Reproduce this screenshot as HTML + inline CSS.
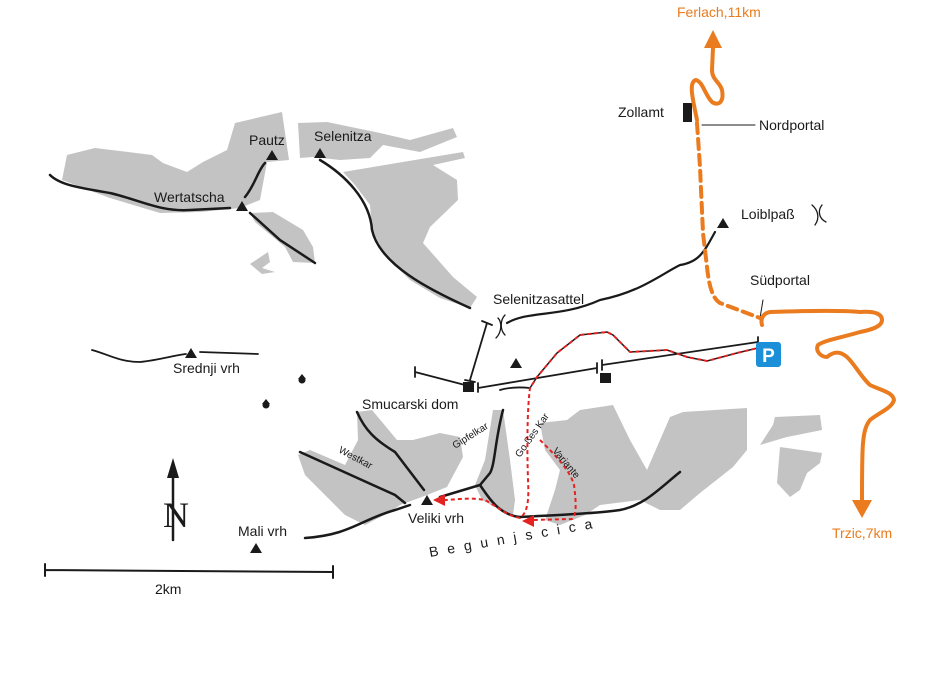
<!DOCTYPE html>
<html><head><meta charset="utf-8"><style>
html,body{margin:0;padding:0;background:#fff;}
svg{display:block;font-family:"Liberation Sans",sans-serif;}
</style></head><body>
<svg width="933" height="674" viewBox="0 0 933 674" xmlns="http://www.w3.org/2000/svg">
<g fill="#c3c3c3">
<polygon points="62,180 67,155 95,148 152,155 163,163 187,172 203,162 227,150 235,123 282,112 289,160 267,162 260,200 240,208 200,212 160,213 110,198"/>
<polygon points="250,213 273,212 303,230 313,247 315,263 293,262 285,247 255,222"/>
<polygon points="250,264 268,252 270,262 262,268 275,272 262,274"/>
<polygon points="298,123 327,122 380,133 410,140 453,128 457,137 420,152 383,145 370,158 340,160 313,157 300,158"/>
<polygon points="343,172 463,152 465,158 433,165 457,180 458,200 430,227 423,243 453,277 477,297 470,308 440,298 410,280 385,255 372,230 370,205 355,185"/>
<polygon points="298,455 310,450 345,465 358,440 357,412 372,410 397,440 413,440 440,433 460,437 463,457 447,487 427,495 400,505 390,512 365,525 345,515 325,495 305,475"/>
<polygon points="493,410 503,410 510,460 515,500 513,515 500,510 482,500 475,485 485,460"/>
<polygon points="540,423 567,420 580,410 613,405 630,440 647,470 670,417 683,412 747,408 747,450 733,467 700,493 680,510 660,510 640,500 600,505 585,515 560,525 545,520 555,490 560,470 545,450"/>
<polygon points="773,425 775,417 820,415 822,430 787,437 760,445"/>
<polygon points="780,447 822,453 820,463 807,473 800,490 790,497 777,483"/>
</g>
<g fill="none" stroke="#1a1a1a" stroke-linecap="round">
<path d="M50,175 C60,185 80,188 110,193 C140,200 160,212 190,210 L230,208" stroke-width="2.5"/>
<path d="M245,197 C255,185 258,170 265,163" stroke-width="2.5"/>
<path d="M250,213 L280,240 L315,263" stroke-width="2.5"/>
<path d="M320,160 C345,175 370,200 372,230 C380,265 430,290 470,308" stroke-width="2.5"/>
<path d="M498,318 C502,322 502,332 496,338 M505,315 C500,320 500,330 505,335" stroke-width="1.3"/>
<path d="M507,323 C530,310 560,318 600,300 C640,292 660,275 680,265 C700,262 705,250 715,232" stroke-width="2.2"/>
<path d="M812,205 C818,210 820,218 815,225 M822,205 C818,210 818,218 826,222" stroke-width="1.3"/>
<path d="M92,350 C110,355 120,362 140,362 C160,360 175,355 186,354 M200,352 L258,354" stroke-width="1.8"/>
<path d="M305,538 C350,535 360,520 395,510 L410,505" stroke-width="2.5"/>
<path d="M300,452 L395,495 L405,503" stroke-width="2.5"/>
<path d="M357,412 C365,430 375,440 395,452 L424,490" stroke-width="2.5"/>
<path d="M503,410 C495,440 495,465 490,473 L480,485 L440,497" stroke-width="2.5"/>
<path d="M480,485 C490,500 500,515 520,517 C560,515 600,513 620,510 C645,505 660,488 680,472" stroke-width="2.5"/>
<path d="M415,372 L465,385 M415,367 L415,377 M487,323 L470,380 M482,321 L492,325 M465,380 L475,382 M478,388 L597,368 M478,383 L478,392 M597,363 L597,373 M602,365 L758,342 M602,360 L602,370 M758,337 L758,347" stroke-width="1.8"/>
<path d="M500,390 C510,387 520,387 530,388" stroke-width="1.8"/>
<path d="M702,125 L755,125" stroke-width="1"/>
<path d="M763,300 L760,318" stroke-width="1"/>
<path d="M173,475 L173,540" stroke-width="2.5"/>
<path d="M45,570 L333,572 M45,564 L45,576 M333,566 L333,578" stroke-width="2"/>
</g>
<g fill="#1a1a1a">
<polygon points="272,150 266,160 278,160"/>
<polygon points="320,148 314,158 326,158"/>
<polygon points="242,201 236,211 248,211"/>
<polygon points="723,218 717,228 729,228"/>
<polygon points="516,358 510,368 522,368"/>
<polygon points="191,348 185,358 197,358"/>
<polygon points="427,495 421,505 433,505"/>
<polygon points="256,543 250,553 262,553"/>
<polygon points="173,458 167,478 179,478"/>
<rect x="463" y="382" width="11" height="10"/>
<rect x="600" y="373" width="11" height="10"/>
<rect x="683" y="103" width="9" height="19"/>
<circle cx="302" cy="380" r="3.5"/><polygon points="302,374 298,379 306,379"/>
<circle cx="266" cy="405" r="3.5"/><polygon points="266,399 262,404 270,404"/>
</g>
<text x="163" y="527" font-family="Liberation Serif,serif" font-size="36" fill="#1a1a1a">N</text>
<g fill="none" stroke="#1a1a1a" stroke-width="1.5">
<path d="M762,347 L737,353 L707,361 L687,357 L667,350 L630,352 L613,335 L607,332 L580,335 L557,353 L537,377 L530,388"/>
</g>
<g fill="none" stroke="#e52222" stroke-width="2" stroke-dasharray="4,3">
<path d="M762,347 L737,353 L707,361 L687,357 L667,350 L630,352 L613,335 L607,332 L580,335 L557,353 L537,377 L530,388 C527,410 527,450 528,480 C529,500 528,512 520,518 C505,515 495,505 485,500 C470,497 455,500 442,500"/>
<path d="M540,440 C555,455 570,470 574,485 C576,500 577,515 572,519 L532,520"/>
</g>
<polygon points="433,500 445,494 445,506" fill="#e52222"/>
<polygon points="522,521 534,515 534,527" fill="#e52222"/>
<g fill="none" stroke="#ea7b1e" stroke-width="4" stroke-linecap="round" stroke-linejoin="round">
<path d="M697,123 L700,167 L703,233 L707,267 C709,285 712,298 720,303 L760,318" stroke-dasharray="10,6"/>
<path d="M697,120 C693,100 688,82 696,80 C703,82 705,95 712,102 C720,107 724,100 722,90 C720,82 712,80 712,70 L713,48"/>
<path d="M762,325 C760,318 764,313 770,312 C800,311 840,310 860,312 C875,311 882,314 882,320 C882,327 870,330 860,332 C840,338 825,340 818,345 C815,350 820,357 827,357 C833,352 840,350 848,358 C855,365 862,378 870,385 C880,390 893,392 894,400 C892,408 880,412 870,420 C862,430 862,445 862,500"/>
</g>
<polygon points="713,30 704,48 722,48" fill="#ea7b1e"/>
<polygon points="862,518 852,500 872,500" fill="#ea7b1e"/>
<rect x="756" y="342" width="25" height="25" rx="3" fill="#1b8fd8"/>
<text x="768.5" y="362" font-size="19" font-weight="bold" fill="#fff" text-anchor="middle">P</text>
<g font-size="14" fill="#1a1a1a">
<text x="249" y="145">Pautz</text>
<text x="314" y="141">Selenitza</text>
<text x="154" y="202">Wertatscha</text>
<text x="618" y="117">Zollamt</text>
<text x="759" y="130">Nordportal</text>
<text x="741" y="219">Loiblpaß</text>
<text x="750" y="285">Südportal</text>
<text x="493" y="304">Selenitzasattel</text>
<text x="173" y="373">Srednji vrh</text>
<text x="362" y="409">Smucarski dom</text>
<text x="408" y="523">Veliki vrh</text>
<text x="238" y="536">Mali vrh</text>
<text x="155" y="594">2km</text>
</g>
<text x="677" y="17" font-size="14" fill="#ea7b1e">Ferlach,11km</text>
<text x="832" y="538" font-size="14" fill="#ea7b1e">Trzic,7km</text>
<g font-size="10" fill="#1a1a1a">
<text transform="translate(338,452) rotate(28)">Westkar</text>
<text transform="translate(455,449) rotate(-32)">Gipfelkar</text>
<text transform="translate(520,458) rotate(-55)">Go ßes Kar</text>
<text transform="translate(552,451) rotate(50)">Variante</text>
</g>
<text transform="translate(430,557) rotate(-10)" font-size="14" fill="#1a1a1a" letter-spacing="9">Begunjscica</text>
</svg>
</body></html>
